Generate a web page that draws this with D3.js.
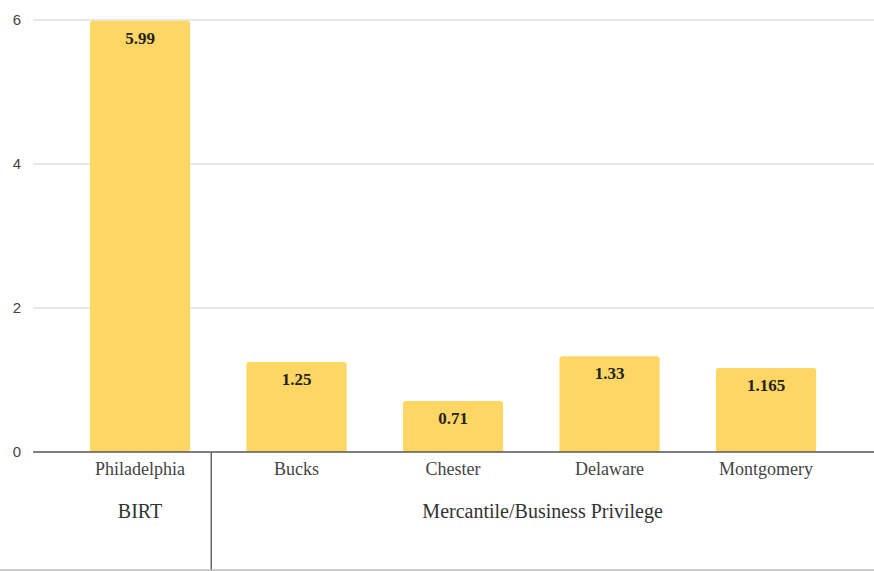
<!DOCTYPE html>
<html>
<head>
<meta charset="utf-8">
<style>
  body { margin: 0; background: #fff; }
  .axis .domain { display: none; }
</style>
</head>
<body>
<svg width="874" height="571"></svg>
<script src="https://d3js.org/d3.v7.min.js"></script>
<script>

var counties = ["Philadelphia", "Bucks", "Chester", "Delaware", "Montgomery"];
var rates = [5.99, 1.25, 0.71, 1.33, 1.165];
var rateLabels = ["5.99", "1.25", "0.71", "1.33", "1.165"];
var yTicks = [0, 2, 4, 6];
var groups = ["BIRT", "Mercantile/Business Privilege"];

var svg = d3.select("svg"),
    width = 874,
    height = 571;

var x = d3.scaleBand()
    .domain(counties)
    .range([61.8, 844.3])
    .paddingInner(0.36)
    .paddingOuter(0.18);

var y = d3.scaleLinear()
    .domain([0, 6])
    .range([452, 20]);

// grid lines
svg.append("g")
    .selectAll("line")
    .data(yTicks.filter(function(d) { return d > 0; }))
    .enter().append("line")
      .attr("x1", 33)
      .attr("x2", width)
      .attr("y1", function(d) { return y(d); })
      .attr("y2", function(d) { return y(d); })
      .attr("stroke", "#e0e0e0")
      .attr("stroke-width", 1.5);

// y tick labels
svg.append("g")
    .attr("class", "axis")
    .attr("transform", "translate(21,0)")
    .call(d3.axisLeft(y).tickValues(yTicks).tickSize(0).tickPadding(0).tickFormat(d3.format("d")))
    .call(function(g) {
      g.selectAll("text")
        .attr("font-family", "'Liberation Sans', Arial, sans-serif")
        .attr("font-size", 15)
        .attr("fill", "#444");
    });

// bars, rounded top corners
var r = 3;
svg.append("g")
    .selectAll("path")
    .data(counties)
    .enter().append("path")
      .attr("fill", "#fdd663")
      .attr("d", function(d, i) {
        var x0 = x(d), w = x.bandwidth(), top = y(rates[i]), bot = y(0);
        return "M" + x0 + "," + bot +
               "V" + (top + r) +
               "Q" + x0 + "," + top + " " + (x0 + r) + "," + top +
               "H" + (x0 + w - r) +
               "Q" + (x0 + w) + "," + top + " " + (x0 + w) + "," + (top + r) +
               "V" + bot + "Z";
      });

// value labels
svg.append("g")
    .selectAll("text")
    .data(counties)
    .enter().append("text")
      .attr("x", function(d) { return x(d) + x.bandwidth() / 2; })
      .attr("y", function(d, i) { return y(rates[i]) + 23; })
      .attr("text-anchor", "middle")
      .attr("font-family", "'Liberation Serif', 'Times New Roman', serif")
      .attr("font-weight", "bold")
      .attr("font-size", 17)
      .attr("fill", "#222")
      .text(function(d, i) { return rateLabels[i]; });

// baseline
svg.append("line")
    .attr("x1", 33)
    .attr("x2", width)
    .attr("y1", y(0))
    .attr("y2", y(0))
    .attr("stroke", "#555")
    .attr("stroke-width", 1.5);

// county labels
svg.append("g")
    .attr("class", "axis")
    .attr("transform", "translate(0," + y(0) + ")")
    .call(d3.axisBottom(x).tickSize(0).tickPadding(10))
    .call(function(g) {
      g.selectAll("text")
        .attr("font-family", "'Liberation Serif', 'Times New Roman', serif")
        .attr("font-size", 18)
        .attr("fill", "#444");
    });

// group separator, a bit left of the gap's middle
var barEnd = x("Philadelphia") + x.bandwidth();
var sepX = barEnd + (x("Bucks") - barEnd) * 0.375;
svg.append("line")
    .attr("x1", sepX)
    .attr("x2", sepX)
    .attr("y1", y(0))
    .attr("y2", height)
    .attr("stroke", "#666")
    .attr("stroke-width", 1.5);

// bottom line
svg.append("line")
    .attr("x1", 0)
    .attr("x2", width)
    .attr("y1", height - 1)
    .attr("y2", height - 1)
    .attr("stroke", "#bbb")
    .attr("stroke-width", 1.5);

// group labels
svg.append("g")
    .selectAll("text")
    .data(groups)
    .enter().append("text")
      .attr("x", function(d, i) {
        if (i === 0) return x("Philadelphia") + x.bandwidth() / 2;
        return (sepX + width) / 2;
      })
      .attr("y", 518)
      .attr("text-anchor", "middle")
      .attr("font-family", "'Liberation Serif', 'Times New Roman', serif")
      .attr("font-size", 20)
      .attr("fill", "#333")
      .text(function(d) { return d; });

</script>
</body>
</html>
